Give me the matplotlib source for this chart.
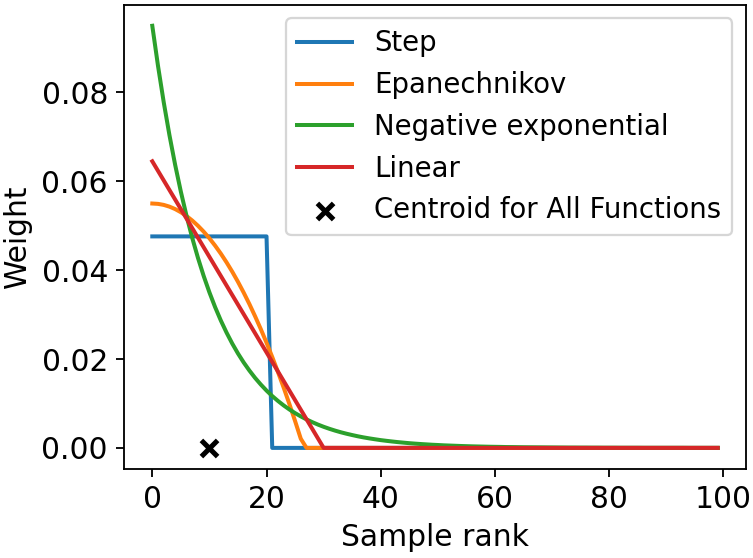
import matplotlib
matplotlib.use("Agg")
import matplotlib.pyplot as plt

ranks = list(range(100))

step_w = [0.0476] * 21 + [0.0] * 79

epan_w = [0.0550, 0.05492, 0.05469, 0.05430, 0.05375, 0.05304, 0.05218, 0.05116,
          0.04999, 0.04866, 0.04717, 0.04552, 0.04372, 0.04176, 0.03965, 0.03738,
          0.03495, 0.03237, 0.02962, 0.02673, 0.02367, 0.02046, 0.01709, 0.01357,
          0.00989, 0.00605, 0.00206] + [0.0] * 73

exp_w = [0.09500, 0.08598, 0.07781, 0.07041, 0.06372, 0.05767, 0.05219, 0.04723,
         0.04275, 0.03868, 0.03501, 0.03168, 0.02867, 0.02595, 0.02348, 0.02125,
         0.01923, 0.01741, 0.01575, 0.01426, 0.01290, 0.01167, 0.01057, 0.00956,
         0.00865, 0.00783, 0.00709, 0.00641, 0.00580, 0.00525, 0.00475, 0.00430,
         0.00389, 0.00352, 0.00319, 0.00289, 0.00261, 0.00236, 0.00214, 0.00194,
         0.00175, 0.00159, 0.00144, 0.00130, 0.00118, 0.00106, 0.00096, 0.00087,
         0.00079, 0.00071, 0.00065, 0.00058, 0.00053, 0.00048, 0.00043, 0.00039,
         0.00035, 0.00032, 0.00029, 0.00026, 0.00024, 0.00022, 0.00019, 0.00018,
         0.00016, 0.00014, 0.00013, 0.00012, 0.00011, 0.00010, 0.00009, 0.00008,
         0.00007, 0.00006, 0.00006, 0.00005, 0.00005, 0.00004, 0.00004, 0.00003,
         0.00003, 0.00003, 0.00002, 0.00002, 0.00002, 0.00002, 0.00001, 0.00001,
         0.00001, 0.00001, 0.00001, 0.00001, 0.00001, 0.00001, 0.00000, 0.00000,
         0.00000, 0.00000, 0.00000, 0.00000]

lin_w = [0.0645, 0.06235, 0.0602, 0.05805, 0.0559, 0.05375, 0.0516, 0.04945,
         0.0473, 0.04515, 0.043, 0.04085, 0.0387, 0.03655, 0.0344, 0.03225,
         0.0301, 0.02795, 0.0258, 0.02365, 0.0215, 0.01935, 0.0172, 0.01505,
         0.0129, 0.01075, 0.0086, 0.00645, 0.0043, 0.00215] + [0.0] * 70

centroid_x = [10]
centroid_y = [0.0]

plt.rcParams["font.size"] = 13
plt.rcParams["lines.linewidth"] = 1.75

dpi = 165
fig, ax = plt.subplots(figsize=(753 / dpi, 558 / dpi), dpi=dpi)
ax.plot(ranks, step_w, label="Step")
ax.plot(ranks, epan_w, label="Epanechnikov")
ax.plot(ranks, exp_w, label="Negative exponential")
ax.plot(ranks, lin_w, label="Linear")
ax.scatter(centroid_x, centroid_y, marker="x", color="black", s=50, linewidths=2.2,
           label="Centroid for All Functions", zorder=5)
ax.set_xlabel("Sample rank")
ax.set_ylabel("Weight")
ax.legend(loc="upper right", fontsize=12.0)
fig.subplots_adjust(left=0.1647, right=0.9907, bottom=0.1595, top=0.9916)
fig.savefig("out.png", dpi=dpi)
